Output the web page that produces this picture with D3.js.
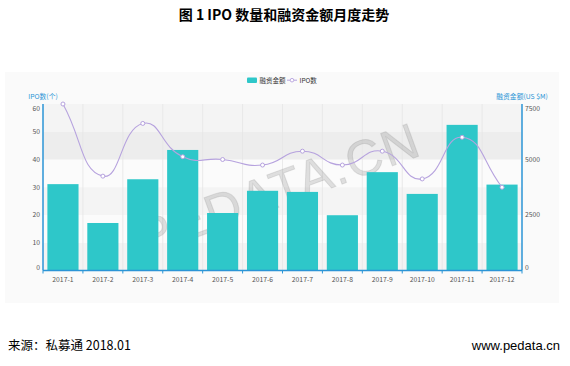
<!DOCTYPE html>
<html>
<head>
<meta charset="utf-8">
<script src="https://cdn.jsdelivr.net/npm/d3@7"></script>
<style>
  html, body { margin: 0; padding: 0; background: #fff; }
  svg { display: block; }
</style>
</head>
<body>
<svg id="chart" width="570" height="366"></svg>
<script>
// ---- data ----
const categories = ["2017-1","2017-2","2017-3","2017-4","2017-5","2017-6","2017-7","2017-8","2017-9","2017-10","2017-11","2017-12"];
const amountValues = [3890, 2140, 4110, 5430, 2590, 3590, 3540, 2490, 4430, 3450, 6560, 3870]; // 融资金额 (US $M)
const ipoValues = [60, 34, 53, 41, 40, 38, 43, 38, 43, 33, 48, 30]; // IPO数
const leftTicks = [0, 10, 20, 30, 40, 50, 60];
const rightTicks = [0, 2500, 5000, 7500];
const bandColors = ["#f3f3f3", "#fbfbfb", "#f4f4f4", "#fbfbfb", "#ededed", "#f4f4f4"];

const svg = d3.select("#chart");
const W = 570, H = 366;
const plot = { left: 43, right: 522, top: 104, bottom: 270.5 };
const barColor = "#2ec7c9", lineColor = "#b6a2de", axisColor = "#2b95d6";
const fontSans = "'Microsoft YaHei','Noto Sans CJK SC',Arial,sans-serif";

// Title
svg.append("text").attr("x", 284).attr("y", 20).attr("text-anchor", "middle")
  .attr("font-family", "'Noto Sans CJK SC',SimSun,serif").attr("font-weight", "bold")
  .attr("font-size", 14).attr("fill", "#000").text("图 1 IPO 数量和融资金额月度走势");

// Chart background panel
svg.append("rect").attr("x", 5).attr("y", 72).attr("width", 554).attr("height", 231).attr("fill", "#fafafa");

const x = d3.scaleBand().domain(categories).range([plot.left, plot.right]).padding(0);
const yL = d3.scaleLinear().domain([0, 60]).range([plot.bottom, plot.top]);
const yR = d3.scaleLinear().domain([0, 7500]).range([plot.bottom, plot.top]);

// split areas
const bandIdx = d3.range(6);
svg.append("g").selectAll("rect").data(bandIdx).join("rect")
  .attr("x", plot.left).attr("width", plot.right - plot.left)
  .attr("y", i => yL(leftTicks[i + 1])).attr("height", i => yL(leftTicks[i]) - yL(leftTicks[i + 1]))
  .attr("fill", i => bandColors[i]);

// vertical split lines at category boundaries
const bounds = categories.map(c => x(c)).concat([plot.right]);
svg.append("g").selectAll("line").data(bounds.slice(1, -1)).join("line")
  .attr("x1", d => d).attr("x2", d => d).attr("y1", plot.top).attr("y2", plot.bottom)
  .attr("stroke", "#e6e6e6").attr("stroke-width", 0.8);

// Watermark
svg.append("text").attr("transform", "translate(285,205) rotate(-20)")
  .attr("text-anchor", "middle").attr("font-family", "Arial, 'Liberation Sans', sans-serif")
  .attr("font-size", 50).attr("fill", "rgba(120,120,120,0.22)")
  .attr("stroke", "rgba(100,100,100,0.15)").attr("stroke-width", 1)
  .attr("letter-spacing", 2).text("PEDATA.CN");

// Bars
const bw = x.bandwidth();
svg.append("g").selectAll("rect").data(categories).join("rect")
  .attr("x", c => x(c) + bw * 0.11).attr("width", bw * 0.78)
  .attr("y", (c, i) => yR(amountValues[i])).attr("height", (c, i) => plot.bottom - yR(amountValues[i]))
  .attr("fill", barColor);

// Smooth line (ECharts-style bezier smoothing)
const pts = categories.map((c, i) => [x(c) + bw / 2, yL(ipoValues[i])]);
function smoothPath(p, smooth) {
  const n = p.length;
  const cps = p.map((pt, i) => {
    const prev = i > 0 ? p[i - 1] : pt;
    const next = i < n - 1 ? p[i + 1] : pt;
    const vx = (next[0] - prev[0]) * smooth, vy = (next[1] - prev[1]) * smooth;
    let d0 = Math.hypot(pt[0] - prev[0], pt[1] - prev[1]);
    let d1 = Math.hypot(pt[0] - next[0], pt[1] - next[1]);
    const s = d0 + d1; if (s) { d0 /= s; d1 /= s; }
    return { before: [pt[0] - vx * d0, pt[1] - vy * d0], after: [pt[0] + vx * d1, pt[1] + vy * d1] };
  });
  let d = `M${p[0][0]},${p[0][1]}`;
  for (let i = 1; i < n; i++) {
    const a = cps[i - 1].after, b = cps[i].before;
    d += `C${a[0]},${a[1]} ${b[0]},${b[1]} ${p[i][0]},${p[i][1]}`;
  }
  return d;
}
svg.append("path").attr("d", smoothPath(pts, 0.5)).attr("fill", "none")
  .attr("stroke", lineColor).attr("stroke-width", 1.1);
svg.append("g").selectAll("circle").data(pts).join("circle")
  .attr("cx", d => d[0]).attr("cy", d => d[1]).attr("r", 2)
  .attr("fill", "#fff").attr("stroke", lineColor).attr("stroke-width", 1);

// Axes lines
const axisG = svg.append("g");
axisG.append("line").attr("x1", plot.left).attr("x2", plot.left).attr("y1", plot.top).attr("y2", plot.bottom)
  .attr("stroke", axisColor).attr("stroke-width", 1.5);
axisG.append("line").attr("x1", plot.right).attr("x2", plot.right).attr("y1", plot.top).attr("y2", plot.bottom)
  .attr("stroke", axisColor).attr("stroke-width", 1.5);
axisG.append("line").attr("x1", plot.left).attr("x2", plot.right).attr("y1", plot.bottom).attr("y2", plot.bottom)
  .attr("stroke", axisColor).attr("stroke-width", 1.5);
// x ticks at boundaries
axisG.selectAll("line.xt").data(bounds).join("line").attr("class", "xt")
  .attr("x1", d => d).attr("x2", d => d).attr("y1", plot.bottom).attr("y2", plot.bottom + 3)
  .attr("stroke", axisColor).attr("stroke-width", 1);

const lblFont = 6.8, lblColor = "#555";
// x labels
svg.append("g").selectAll("text").data(categories).join("text")
  .attr("x", c => x(c) + bw / 2).attr("y", 281.5).attr("text-anchor", "middle")
  .attr("font-family", fontSans).attr("font-size", lblFont).attr("fill", lblColor).text(c => c);

// left labels (min aligned bottom, max aligned top)
function vAlign(i, len) { return i === 0 ? "-1" : (i === len - 1 ? "6.5" : "2.4"); }
svg.append("g").selectAll("text").data(leftTicks).join("text")
  .attr("x", 40).attr("y", d => yL(d)).attr("dy", (d, i) => vAlign(i, leftTicks.length))
  .attr("text-anchor", "end").attr("font-family", fontSans).attr("font-size", lblFont).attr("fill", lblColor)
  .text(d => d);
svg.append("g").selectAll("text").data(rightTicks).join("text")
  .attr("x", 525).attr("y", d => yR(d)).attr("dy", (d, i) => vAlign(i, rightTicks.length))
  .attr("text-anchor", "start").attr("font-family", fontSans).attr("font-size", lblFont).attr("fill", lblColor)
  .text(d => d);

// axis names
svg.append("text").attr("x", 43).attr("y", 99).attr("text-anchor", "middle")
  .attr("font-family", fontSans).attr("font-size", 6.8).attr("fill", axisColor).text("IPO数(个)");
svg.append("text").attr("x", 522).attr("y", 99).attr("text-anchor", "middle")
  .attr("font-family", fontSans).attr("font-size", 6.8).attr("fill", axisColor).text("融资金额(US $M)");

// Legend
const lg = svg.append("g");
lg.append("rect").attr("x", 247).attr("y", 77.5).attr("width", 10).attr("height", 5.5).attr("rx", 1).attr("fill", barColor);
lg.append("text").attr("x", 259.5).attr("y", 82.5).attr("font-family", fontSans).attr("font-size", 6.5)
  .attr("fill", "#333").text("融资金额");
lg.append("line").attr("x1", 287).attr("x2", 297).attr("y1", 80.2).attr("y2", 80.2).attr("stroke", lineColor).attr("stroke-width", 1);
lg.append("circle").attr("cx", 292).attr("cy", 80.2).attr("r", 1.8).attr("fill", "#fff").attr("stroke", lineColor).attr("stroke-width", 0.9);
lg.append("text").attr("x", 299.5).attr("y", 82.5).attr("font-family", fontSans).attr("font-size", 6.5)
  .attr("fill", "#333").text("IPO数");

// Footer
svg.append("text").attr("x", 8).attr("y", 350).attr("font-family", "'Noto Sans CJK SC','Liberation Sans',sans-serif")
  .attr("font-size", 12.5).attr("fill", "#000").text("来源：私募通 2018.01");
svg.append("text").attr("x", 560).attr("y", 350).attr("text-anchor", "end")
  .attr("font-family", "'Liberation Sans',Arial,sans-serif")
  .attr("font-size", 13).attr("fill", "#000").text("www.pedata.cn");
</script>
</body>
</html>
